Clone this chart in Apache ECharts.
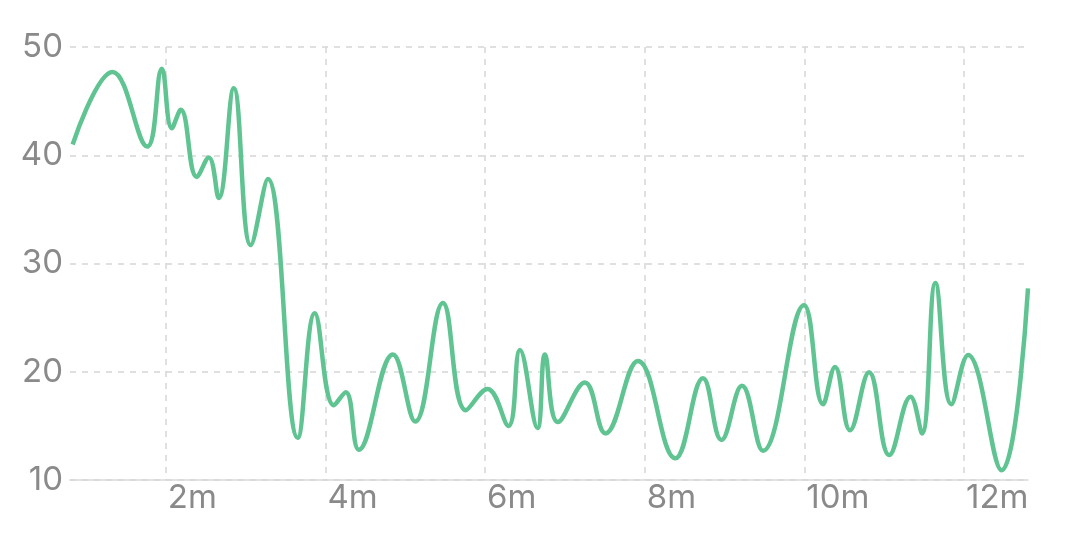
<!DOCTYPE html>
<html>
<head>
<meta charset="utf-8">
<script src="https://cdn.jsdelivr.net/npm/echarts@6/dist/echarts.min.js"></script>
<style>
html,body{margin:0;padding:0;background:#fff;}
#chart{width:1067px;height:542px;}
</style>
</head>
<body>
<div id="chart"></div>
<script>
// time in seconds
var times = [50, 80, 106, 117, 124.5, 131.3, 143.3, 152.3, 159.8, 171.1, 183.9, 196.7,
  219.2, 232, 246.3, 255.3, 265.1, 290.7, 307.5, 328.3, 345.6, 361.8, 377.5, 386.2,
  399.4, 405, 414.7, 435, 450.5, 474.9, 503, 523.8, 537.7, 553.1, 568.9, 599.7,
  614, 623, 634.3, 648.6, 663.8, 679.8, 688.4, 698.5, 710.5, 723, 748.2, 768.1];
var values = [41, 47.7, 40.8, 48.0, 42.5, 44.2, 38.0, 39.8, 36.05, 46.2, 31.7, 37.8,
  13.9, 25.4, 16.9, 18.1, 12.8, 21.6, 15.4, 26.35, 16.45, 18.4, 15.0, 22.0,
  14.8, 21.6, 15.35, 19.0, 14.3, 21.0, 12.0, 19.4, 13.7, 18.7, 12.7, 26.15,
  17.0, 20.45, 14.6, 19.95, 12.3, 17.7, 14.3, 28.2, 17.0, 21.55, 10.9, 27.7];
var xTicks = [120, 240, 360, 480, 600, 720];
var xMin = 48;
var yMin = 10, yMax = 50, yInterval = 10;

var data = times.map(function (t, i) { return [t, values[i]]; });

var chart = echarts.init(document.getElementById('chart'), null, {renderer: 'canvas'});
var font = 'Inter, "Noto Sans", sans-serif';
chart.setOption({
  animation: false,
  grid: {left: 70, right: 39, top: 47, bottom: 62, containLabel: false},
  xAxis: {
    type: 'value',
    min: xMin,
    max: 'dataMax',
    axisLine: {show: true, lineStyle: {color: '#d9d9d9', width: 1.5}},
    axisTick: {show: false, customValues: xTicks},
    axisLabel: {
      customValues: xTicks,
      color: '#8a8a8a', fontSize: 33, fontFamily: font,
      align: 'left', margin: 2, padding: [0, 0, 0, 2],
      formatter: function (v) { return Math.round(v / 60) + 'm'; }
    },
    splitLine: {show: true, lineStyle: {color: '#d6d6d6', type: [6, 6], width: 1.5}}
  },
  yAxis: {
    type: 'value',
    min: yMin, max: yMax, interval: yInterval,
    axisLine: {show: false},
    axisTick: {show: false},
    axisLabel: {color: '#8a8a8a', fontSize: 33, fontFamily: font, margin: 7},
    splitLine: {show: true, lineStyle: {color: '#d6d6d6', type: [6, 6], width: 1.5}}
  },
  series: [{
    type: 'line',
    data: data,
    smooth: 0.42,
    showSymbol: false,
    symbol: 'none',
    lineStyle: {color: '#5fc492', width: 4.5},
    itemStyle: {color: '#5fc492'}
  }]
});
</script>
</body>
</html>
